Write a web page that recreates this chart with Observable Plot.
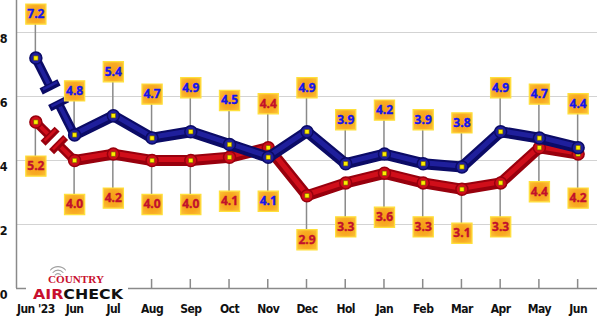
<!DOCTYPE html>
<html>
<head>
<meta charset="utf-8">
<script src="https://cdn.jsdelivr.net/npm/d3@7"></script>
<script src="https://cdn.jsdelivr.net/npm/@observablehq/plot@0.6"></script>
<style>
  html, body { margin: 0; padding: 0; background: #fff; }
  #wrap { position: relative; width: 600px; height: 321px; overflow: hidden; }
  #logo { position: absolute; left: 26px; top: 262px; width: 102px; height: 40px; background: #fff; }
  #logo svg { overflow: visible; }
  #chart g[aria-label="x-axis tick label"] text { letter-spacing: -0.5px; }
</style>
</head>
<body>
<div id="wrap">
  <div id="chart"></div>
  <div id="logo">
    <svg width="102" height="40" viewBox="0 0 102 40">
      <g fill="none" stroke="#a0a0a0" stroke-width="1.1" stroke-linecap="round">
        <path d="M29.2,13 A3.5,3.5 0 0 1 34.8,13"/>
        <path d="M27,10.5 A6.5,6.5 0 0 1 37,10.5"/>
        <path d="M24.5,8 A10,10 0 0 1 39.5,8"/>
      </g>
      <text x="22" y="21" font-family="Liberation Serif, DejaVu Serif, serif" font-weight="bold" font-size="9.5" fill="#c8102e" textLength="56" lengthAdjust="spacingAndGlyphs">COUNTRY</text>
      <text x="7" y="36.5" font-family="DejaVu Sans, sans-serif" font-weight="bold" font-size="14" textLength="90" lengthAdjust="spacingAndGlyphs"><tspan fill="#c8102e">AIR</tspan><tspan fill="#111">CHECK</tspan></text>
    </svg>
  </div>
</div>
<script>
const months = ["Jun '23","Jun","Jul","Aug","Sep","Oct","Nov","Dec","Hol","Jan","Feb","Mar","Apr","May","Jun"];
const blueValues = [7.2,4.8,5.4,4.7,4.9,4.5,4.1,4.9,3.9,4.2,3.9,3.8,4.9,4.7,4.4];
const redValues  = [5.2,4.0,4.2,4.0,4.0,4.1,4.4,2.9,3.3,3.6,3.3,3.1,3.3,4.4,4.2];
const yTicks = [0,2,4,6,8];
const gridTicks = [2,4,6,8];

const rows = months.map((m, i) => ({i, month: m, blue: blueValues[i], red: redValues[i]}));

const LABEL_OFFSET = 44;
const BREAK_START = 0.38, BREAK_END = 0.6;
const palette = {
  blue: {dark: "#0b0b66", light: "#1f1f9c", text: "#1414ee"},
  red:  {dark: "#98000d", light: "#d00e1a", text: "#c2102c"}
};

// long-format labels
const labels = [];
rows.forEach(r => {
  const blueAbove = r.blue >= r.red;
  labels.push({i: r.i, v: r.blue, series: "blue", above: blueAbove, text: r.blue.toFixed(1), color: palette.blue.text});
  labels.push({i: r.i, v: r.red, series: "red", above: !blueAbove, text: r.red.toFixed(1), color: palette.red.text});
});

const defs = () => {
  const d = d3.create("svg:defs");
  const g = d.append("radialGradient").attr("id", "boxGrad").attr("cx", "50%").attr("cy", "50%").attr("r", "70%");
  g.append("stop").attr("offset", "0%").attr("stop-color", "#f69e16");
  g.append("stop").attr("offset", "55%").attr("stop-color", "#f8aa22");
  g.append("stop").attr("offset", "100%").attr("stop-color", "#fcc43c");
  return d.node();
};

const stems = (index, scales) => {
  const g = d3.create("svg:g").attr("stroke", "#8a8a8a").attr("stroke-width", 1.5);
  labels.forEach(l => {
    const px = scales.x(l.i), py = scales.y(l.v);
    g.append("line").attr("x1", px).attr("x2", px).attr("y1", py)
      .attr("y2", py + (l.above ? -LABEL_OFFSET : LABEL_OFFSET));
  });
  return g.node();
};

const bottomTicks = (index, scales) => {
  const g = d3.create("svg:g").attr("stroke", "#8a8a8a").attr("stroke-width", 1.5);
  const y0 = scales.y(0);
  rows.forEach(r => {
    const px = scales.x(r.i);
    g.append("line").attr("x1", px).attr("x2", px).attr("y1", y0).attr("y2", y0 - 9);
  });
  return g.node();
};

const brokenSegment = key => (index, scales) => {
  const c = palette[key];
  const g = d3.create("svg:g").attr("fill", "none");
  const x0 = scales.x(0), y0 = scales.y(rows[0][key]);
  const x1 = scales.x(1), y1 = scales.y(rows[1][key]);
  const lerp = t => [x0 + t * (x1 - x0), y0 + t * (y1 - y0)];
  const a = lerp(BREAK_START), b = lerp(BREAK_END);
  const len = Math.hypot(x1 - x0, y1 - y0);
  const perp = [(y1 - y0) / len, -(x1 - x0) / len];
  const half = 10;
  const pieces = [[[x0, y0], a], [b, [x1, y1]]];
  for (const [w, col] of [[9, c.dark], [4, c.light]]) {
    pieces.forEach(([p, q]) => {
      g.append("line").attr("x1", p[0]).attr("y1", p[1]).attr("x2", q[0]).attr("y2", q[1])
        .attr("stroke", col).attr("stroke-width", w).attr("stroke-linecap", "butt");
    });
  }
  for (const p of [a, b]) {
    g.append("line")
      .attr("x1", p[0] - perp[0] * half).attr("y1", p[1] - perp[1] * half)
      .attr("x2", p[0] + perp[0] * half).attr("y2", p[1] + perp[1] * half)
      .attr("stroke", c.dark).attr("stroke-width", 7).attr("stroke-linecap", "butt");
    g.append("line")
      .attr("x1", p[0] - perp[0] * (half - 2)).attr("y1", p[1] - perp[1] * (half - 2) - 1)
      .attr("x2", p[0] + perp[0] * (half - 2)).attr("y2", p[1] + perp[1] * (half - 2) - 1)
      .attr("stroke", c.light).attr("stroke-width", 2.5).attr("stroke-linecap", "butt");
  }
  return g.node();
};

const seriesMarks = key => {
  const c = palette[key];
  const rest = rows.slice(1);
  return [
    brokenSegment(key),
    Plot.line(rest, {x: "i", y: key, stroke: c.dark, strokeWidth: 11, strokeLinejoin: "round", strokeLinecap: "round"}),
    Plot.line(rest, {x: "i", y: key, stroke: c.light, strokeWidth: 5, strokeLinejoin: "round", strokeLinecap: "round", dy: -1}),
    Plot.dot(rows, {x: "i", y: key, r: 6, fill: c.light, stroke: c.dark, strokeWidth: 1.5}),
    Plot.dot(rows, {x: "i", y: key, r: 2.5, symbol: "square", fill: "#ffee00", stroke: "#6b5a00", strokeWidth: 0.6})
  ];
};

const labelFont = "Open Sans, DejaVu Sans, sans-serif";
const labelMarks = [true, false].flatMap(above => {
  const dy = above ? -LABEL_OFFSET : LABEL_OFFSET;
  return [
    Plot.dot(labels, {filter: d => d.above === above, x: "i", y: "v", dy, symbol: "square", r: 11.4, fill: "url(#boxGrad)", stroke: "#ffe03a", strokeWidth: 1.2}),
    Plot.text(labels, {filter: d => d.above === above, x: "i", y: "v", dy, text: "text", fill: "color", stroke: "color", strokeWidth: 0.35, fontFamily: labelFont, fontWeight: "bold", fontSize: 12})
  ];
});

const axisFont = "Liberation Sans Narrow, DejaVu Sans Condensed, DejaVu Sans, sans-serif";

const chart = Plot.plot({
  width: 600,
  height: 321,
  marginLeft: 16,
  marginRight: 3,
  marginTop: 0,
  marginBottom: 33,
  style: {background: "#fff", overflow: "visible"},
  x: {type: "linear", domain: [-0.5, months.length - 0.5], label: null},
  y: {domain: [0, 9], label: null},
  marks: [
    defs,
    Plot.ruleY(gridTicks, {stroke: "#d3d3d3", strokeWidth: 1.2}),
    Plot.ruleY([0], {stroke: "#8a8a8a", strokeWidth: 1.5}),
    Plot.ruleX([-0.5], {stroke: "#8a8a8a", strokeWidth: 1.5}),
    bottomTicks,
    stems,
    ...seriesMarks("red"),
    ...seriesMarks("blue"),
    ...labelMarks,
    Plot.axisX({ticks: rows.map(r => r.i), tickFormat: i => months[i], tickSize: 0, tickPadding: 16, fontFamily: axisFont, fontWeight: "bold", fontSize: 12, fill: "#111", label: null}),
    Plot.axisY({ticks: yTicks, tickSize: 0, tickPadding: 9, dy: 6, fontFamily: axisFont, fontWeight: "bold", fontSize: 12.5, fill: "#111", label: null})
  ]
});
document.getElementById("chart").appendChild(chart);
</script>
</body>
</html>
